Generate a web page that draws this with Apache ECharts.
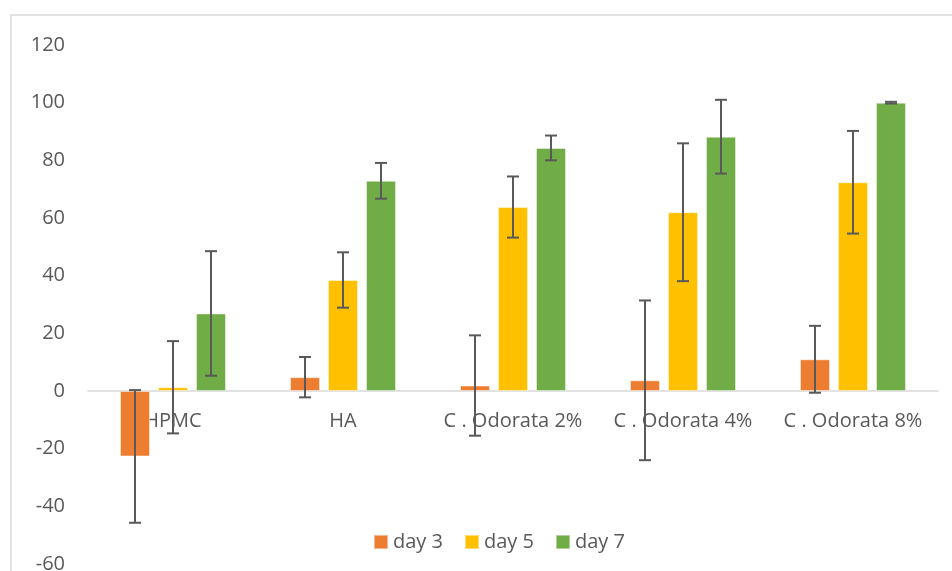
<!DOCTYPE html>
<html><head><meta charset="utf-8">
<script src="https://cdn.jsdelivr.net/npm/echarts@6/dist/echarts.min.js"></script>
<style>html,body{margin:0;padding:0;background:#fff}#c{width:952px;height:571px}</style>
</head><body><div id="c"></div>
<script>
const categories = ['HPMC', 'HA', 'C . Odorata 2%', 'C . Odorata 4%', 'C . Odorata 8%'];
const seriesNames = ['day 3', 'day 5', 'day 7'];
const day3 = [-22.7, 4.8, 1.9, 3.7, 11.0];
const day5 = [1.3, 38.5, 63.8, 62.0, 72.4];
const day7 = [26.9, 72.9, 84.3, 88.2, 100.0];
const err3 = [23.0, 7.0, 17.4, 27.7, 11.6];
const err5 = [16.0, 9.6, 10.6, 23.9, 17.8];
const err7 = [21.6, 6.2, 4.3, 12.8, 0.3];
const yTicks = [-60, -40, -20, 0, 20, 40, 60, 80, 100, 120];
const colors = ['#ED7D31', '#FFC000', '#70AD47'];

const values = [day3, day5, day7];
const errs = [err3, err5, err7];
const BAR_W = 30, GAP = 8;
const font = 'Open Sans';
const W = 952, H = 571;
const G = { left: 88, right: 14, top: 45, bottom: 7 };
const yMin = yTicks[0], yMax = yTicks[yTicks.length - 1];
// move the category axis up to the zero line
const zeroOffset = -((0 - yMin) / (yMax - yMin)) * (H - G.top - G.bottom);

const series = [];
values.forEach((v, i) => {
  series.push({
    name: seriesNames[i], type: 'bar', data: v, barWidth: BAR_W, barGap: (GAP / BAR_W * 100) + '%',
    itemStyle: { color: colors[i], borderColor: 'rgba(255,255,255,0.45)', borderWidth: 1 }
  });
});
values.forEach((v, i) => {
  series.push({
    type: 'custom', z: 10, silent: true,
    data: v.map((val, k) => [k, val - errs[i][k], val + errs[i][k]]),
    renderItem: (params, api) => {
      const k = api.value(0);
      const lo = api.coord([k, api.value(1)]);
      const hi = api.coord([k, api.value(2)]);
      const x = lo[0] + (i - 1) * (BAR_W + GAP);
      const cap = 6;
      const st = { stroke: '#595959', lineWidth: 2 };
      return { type: 'group', children: [
        { type: 'line', shape: { x1: x, y1: lo[1], x2: x, y2: hi[1] }, style: st },
        { type: 'line', shape: { x1: x - cap, y1: lo[1], x2: x + cap, y2: lo[1] }, style: st },
        { type: 'line', shape: { x1: x - cap, y1: hi[1], x2: x + cap, y2: hi[1] }, style: st }
      ]};
    }
  });
});

const chart = echarts.init(document.getElementById('c'));
chart.setOption({
  animation: false,
  graphic: [{ type: 'rect', shape: { x: 11, y: 15, width: 1200, height: 1000 },
    style: { fill: 'none', stroke: '#D9D9D9', lineWidth: 1.5 }, z: -10 }],
  legend: {
    data: seriesNames, left: 368, top: 527, itemWidth: 14, itemHeight: 14, itemGap: 21,
    icon: 'rect', textStyle: { color: '#595959', fontSize: 20, fontFamily: font }
  },
  grid: Object.assign({ containLabel: false, outerBoundsMode: 'none' }, G),
  xAxis: {
    type: 'category', data: categories, offset: zeroOffset,
    axisLine: { onZero: false, lineStyle: { color: '#D9D9D9', width: 1.5 } },
    axisTick: { show: false },
    axisLabel: { color: '#595959', fontSize: 20, fontFamily: font, margin: 20, interval: 0, hideOverlap: false }
  },
  yAxis: {
    type: 'value', min: yMin, max: yMax, interval: 20,
    axisLine: { show: false }, axisTick: { show: false }, splitLine: { show: false },
    axisLabel: { color: '#595959', fontSize: 20, fontFamily: font, margin: 23 }
  },
  series
});
</script></body></html>
